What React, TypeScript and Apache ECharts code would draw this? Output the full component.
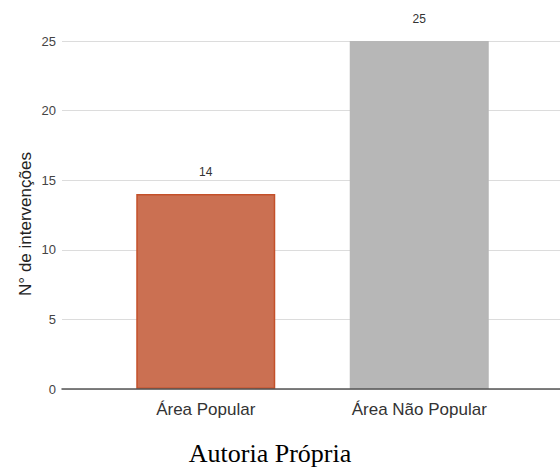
import React, { useEffect, useRef } from "react";
import * as echarts from "echarts";

const categories = ["Área Popular", "Área Não Popular"];
const values = [14, 25];
const barColors = ["#cb7052", "#b7b7b7"];
const barBorders = ["#c4502a", "#b7b7b7"];
const yTicks = { min: 0, max: 25, interval: 5 };
const yTitle = "N° de intervenções";
const caption = "Autoria Própria";

export default function App() {
  const ref = useRef<HTMLDivElement>(null);

  useEffect(() => {
    if (!ref.current) return;
    const chart = echarts.init(ref.current, undefined, { renderer: "svg" });
    const sans = "'Liberation Sans', Arial, sans-serif";
    chart.setOption({
      animation: false,
      backgroundColor: "#ffffff",
      grid: [
        { left: 62, right: 0, top: 41, bottom: 79 },
        { left: 99, right: 34, top: 41, bottom: 79 },
      ],
      xAxis: [
        {
          type: "category",
          gridIndex: 0,
          data: [""],
          axisLine: { show: true, lineStyle: { color: "#555555", width: 1.5 } },
          axisTick: { show: false },
          axisLabel: { show: false },
          splitLine: { show: false },
          z: 5,
        },
        {
          type: "category",
          gridIndex: 1,
          data: categories,
          axisLine: { show: false },
          axisTick: { show: false },
          axisLabel: {
            margin: 12,
            color: "#333333",
            fontFamily: sans,
            fontSize: 17,
          },
        },
      ],
      yAxis: [
        {
          type: "value",
          gridIndex: 0,
          ...yTicks,
          axisLine: { show: false },
          axisTick: { show: false },
          axisLabel: { margin: 6, color: "#444444", fontFamily: sans, fontSize: 13 },
          splitLine: { show: true, lineStyle: { color: "#dcdcdc", width: 1 } },
        },
        {
          type: "value",
          gridIndex: 1,
          ...yTicks,
          axisLine: { show: false },
          axisTick: { show: false },
          axisLabel: { show: false },
          splitLine: { show: false },
        },
      ],
      series: [
        {
          type: "bar",
          xAxisIndex: 1,
          yAxisIndex: 1,
          barWidth: 139,
          data: values.map((v, i) => ({
            value: v,
            itemStyle: {
              color: barColors[i],
              borderColor: barBorders[i],
              borderWidth: 1.5,
            },
          })),
          label: {
            show: true,
            position: "top",
            distance: 16,
            color: "#333333",
            fontFamily: sans,
            fontSize: 12,
          },
          z: 3,
        },
      ],
      graphic: [
        {
          type: "text",
          x: 25,
          y: 224,
          rotation: Math.PI / 2,
          style: {
            text: yTitle,
            align: "center",
            verticalAlign: "middle",
            fontFamily: sans,
            fontSize: 17,
            fill: "#222222",
          },
        },
        {
          type: "text",
          x: 270,
          y: 453,
          style: {
            text: caption,
            align: "center",
            verticalAlign: "middle",
            fontFamily: "'Liberation Serif', 'Times New Roman', serif",
            fontSize: 26,
            fill: "#000000",
          },
        },
      ],
    });
    return () => chart.dispose();
  }, []);

  return (
    <div
      ref={ref}
      style={{ position: "fixed", left: 0, top: 0, width: 560, height: 468 }}
    />
  );
}
